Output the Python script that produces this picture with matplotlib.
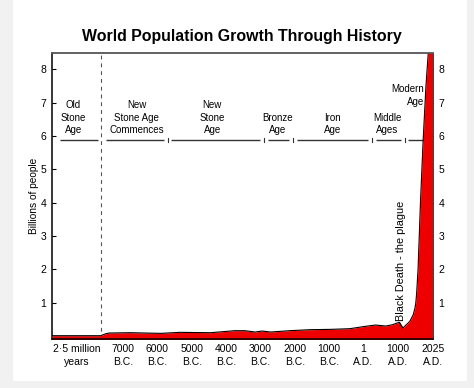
import matplotlib
matplotlib.use('Agg')
import matplotlib.pyplot as plt
from matplotlib.patches import Rectangle

plt.rcParams['font.family'] = ['Liberation Sans', 'DejaVu Sans']

# population curve (x in the chart's own year scale)
YEARS = [-9050, -7650, -7500, -7400, -6800, -5900, -5350, -4450, -3750, -3450,
         -3150, -2950, -2700, -2150, -1550, -950, -400, 50, 350, 650, 850,
         975, 1050, 1150, 1250, 1350, 1450, 1500, 1525, 1550, 1590, 1660,
         1735, 1820, 1895, 2025]
POPULATION = [0.01, 0.01, 0.07, 0.09, 0.10, 0.08, 0.11, 0.10, 0.16, 0.16,
              0.12, 0.15, 0.12, 0.16, 0.19, 0.20, 0.22, 0.29, 0.33, 0.30, 0.34,
              0.39, 0.41, 0.24, 0.34, 0.44, 0.64, 0.84, 1.0, 1.3, 2.0, 4.0,
              5.8, 7.5, 8.6, 9.0]

XTICK_YEARS = [-8340, -7000, -6000, -5000, -4000, -3000, -2000, -1000, 1, 1000, 2025]
XTICK_LABELS = ['2·5 million\nyears', '7000\nB.C.', '6000\nB.C.', '5000\nB.C.',
                '4000\nB.C.', '3000\nB.C.', '2000\nB.C.', '1000\nB.C.',
                '1\nA.D.', '1000\nA.D.', '2025\nA.D.']
YTICKS = [1, 2, 3, 4, 5, 6, 7, 8]

STONE_AGE_START = -7640
ERA_BOUNDS = [-5700, -2900, -2050, 250, 1200]
ERA_LABELS = ['Old\nStone\nAge', 'New\nStone Age\nCommences', 'New\nStone\nAge',
              'Bronze\nAge', 'Iron\nAge', 'Middle\nAges']
ERA_LABEL_X = [-8450, -6600, -4400, -2500, -900, 700]
PLAGUE_YEAR = 1120

XMIN, XMAX = -9067, 2025
YMIN, YMAX = -0.08, 8.5
ERA_Y = 5.88
FS = 7

fig = plt.figure(figsize=(4.74, 3.88), dpi=100, facecolor='#f1f1f1')
fig.patches.append(Rectangle((13 / 474, 1 - 381 / 388), (467 - 13) / 474, 381 / 388,
                             transform=fig.transFigure, facecolor='white',
                             edgecolor='none', zorder=-1))
ax = fig.add_axes([52 / 474, 1 - 338.7 / 388, (433 - 52) / 474, (338.7 - 52.5) / 388])
ax.set_facecolor('white')

ax.fill_between(YEARS, POPULATION, YMIN - 1, color='#ee0000', zorder=3, linewidth=0)
ax.plot(YEARS, POPULATION, color='black', linewidth=0.8, zorder=4)

# old / new stone age divider
ax.axvline(STONE_AGE_START, color='#555555', linewidth=0.8, dashes=(3.5, 3.5), zorder=2)

# era line with small boundary ticks
gap = 110
starts = [-8830, STONE_AGE_START + 140] + [b + gap for b in ERA_BOUNDS]
ends = [STONE_AGE_START - 100] + [b - gap for b in ERA_BOUNDS] + [XMAX]
for s, e in zip(starts, ends):
    ax.plot([s, e], [ERA_Y, ERA_Y], color='#333333', linewidth=1.0, zorder=2,
            solid_capstyle='butt')
for b in ERA_BOUNDS:
    ax.plot([b, b], [ERA_Y - 0.07, ERA_Y + 0.07], color='#333333', linewidth=0.8, zorder=2)

for lab, x in zip(ERA_LABELS, ERA_LABEL_X):
    ax.text(x, 6.02, lab, ha='center', va='bottom', fontsize=FS, linespacing=1.3,
            multialignment='center', zorder=5)
ax.text(1760, 6.87, 'Modern\nAge', ha='right', va='bottom', fontsize=FS,
        linespacing=1.3, multialignment='right', zorder=5)
ax.text(PLAGUE_YEAR - 30, 0.45, 'Black Death - the plague', rotation=90, ha='center',
        va='bottom', fontsize=7.8, zorder=5)

ax.set_xlim(XMIN, XMAX)
ax.set_ylim(YMIN, YMAX)
ax.set_xticks(XTICK_YEARS)
ax.set_xticklabels(XTICK_LABELS, fontsize=7.5, linespacing=1.3)
ax.tick_params(axis='x', length=0, pad=4)
ax.set_yticks(YTICKS)
ax.tick_params(axis='y', direction='in', length=3, width=0.8, labelsize=7.5,
               right=True, labelright=True, pad=4)
ax.set_ylabel('Billions of people', fontsize=7.3, labelpad=1)

for side in ['left', 'bottom']:
    ax.spines[side].set_linewidth(1.1)
    ax.spines[side].set_color('black')
ax.spines['top'].set_color('#555555')
ax.spines['top'].set_linewidth(1.3)
ax.spines['right'].set_color('#333333')
ax.spines['right'].set_linewidth(0.6)
for sp in ax.spines.values():
    sp.set_zorder(6)

fig.text(242 / 474, 1 - 37 / 388, 'World Population Growth Through History',
         ha='center', va='center', fontsize=11.4, fontweight='bold')

fig.savefig('out.png', dpi=100, facecolor=fig.get_facecolor())
